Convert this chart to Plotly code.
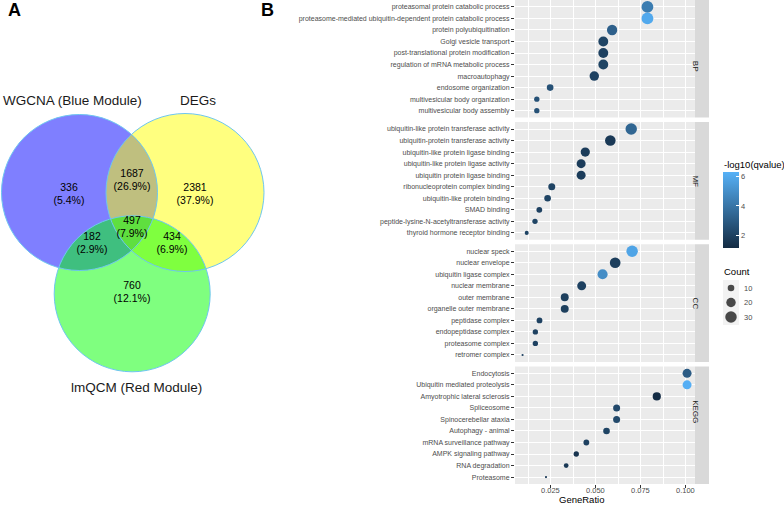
import numpy as np
import plotly.graph_objects as go

W, H = 784, 505
FONT = "Liberation Sans, Arial, sans-serif"

# ---------------- Data ----------------
venn_sets = ["WGCNA (Blue Module)", "DEGs", "lmQCM (Red Module)"]
venn_counts = [336, 1687, 2381, 497, 182, 434, 760]
venn_pcts = ["5.4", "26.9", "37.9", "7.9", "2.9", "6.9", "12.1"]

facets = ["BP", "MF", "CC", "KEGG"]

bp_terms = ["proteasomal protein catabolic process",
            "proteasome-mediated ubiquitin-dependent protein catabolic process",
            "protein polyubiquitination", "Golgi vesicle transport",
            "post-translational protein modification",
            "regulation of mRNA metabolic process", "macroautophagy",
            "endosome organization", "multivesicular body organization",
            "multivesicular body assembly"]
bp_ratio = [0.0786, 0.0786, 0.0590, 0.0541, 0.0541, 0.0541, 0.0491, 0.0246, 0.0172, 0.0172]
bp_count = [32, 32, 24, 22, 22, 22, 20, 10, 7, 7]
bp_q = [4.3, 6.0, 3.2, 2.1, 2.0, 2.1, 2.0, 2.6, 2.6, 2.6]

mf_terms = ["ubiquitin-like protein transferase activity",
            "ubiquitin-protein transferase activity",
            "ubiquitin-like protein ligase binding",
            "ubiquitin-like protein ligase activity",
            "ubiquitin protein ligase binding",
            "ribonucleoprotein complex binding", "ubiquitin-like protein binding",
            "SMAD binding", "peptide-lysine-N-acetyltransferase activity",
            "thyroid hormone receptor binding"]
mf_ratio = [0.0696, 0.0580, 0.0441, 0.0418, 0.0418, 0.0255, 0.0232, 0.0186, 0.0162, 0.0116]
mf_count = [30, 25, 19, 18, 18, 11, 10, 8, 7, 5]
mf_q = [3.4, 1.7, 1.8, 1.8, 1.8, 2.1, 2.1, 2.0, 2.1, 2.1]

cc_terms = ["nuclear speck", "nuclear envelope", "ubiquitin ligase complex",
            "nuclear membrane", "outer membrane", "organelle outer membrane",
            "peptidase complex", "endopeptidase complex", "proteasome complex",
            "retromer complex"]
cc_ratio = [0.0701, 0.0607, 0.0537, 0.0421, 0.0327, 0.0327, 0.0187, 0.0164, 0.0164, 0.0093]
cc_count = [30, 26, 23, 18, 14, 14, 8, 7, 7, 4]
cc_q = [5.8, 1.9, 4.9, 2.0, 1.9, 1.9, 2.0, 2.0, 2.0, 2.0]

kegg_terms = ["Endocytosis", "Ubiquitin mediated proteolysis",
              "Amyotrophic lateral sclerosis", "Spliceosome",
              "Spinocerebellar ataxia", "Autophagy - animal",
              "mRNA surveillance pathway", "AMPK signaling pathway",
              "RNA degradation", "Proteasome"]
kegg_ratio = [0.1006, 0.1006, 0.0838, 0.0615, 0.0615, 0.0559, 0.0447, 0.0391, 0.0335, 0.0223]
kegg_count = [18, 18, 15, 11, 11, 10, 8, 7, 6, 4]
kegg_q = [3.0, 6.2, 1.2, 2.3, 2.3, 2.1, 2.0, 1.5, 1.7, 1.7]

x_ticks = [0.025, 0.050, 0.075, 0.100]
x_ticklabels = ["0.025", "0.050", "0.075", "0.100"]
q_ticks = [2, 4, 6]
count_legend = [10, 20, 30]

# ---------------- Layout helpers ----------------
def py(p):
    return 1 - p / H

def px(p):
    return p / W

terms_all = [bp_terms, mf_terms, cc_terms, kegg_terms]
ratio_all = [bp_ratio, mf_ratio, cc_ratio, kegg_ratio]
count_all = [bp_count, mf_count, cc_count, kegg_count]
q_all = [bp_q, mf_q, cc_q, kegg_q]

all_counts = np.concatenate([np.array(c) for c in count_all])
CMIN, CMAX = all_counts.min(), all_counts.max()

def dot_size(c):
    c = np.asarray(c, dtype=float)
    return 2.2 + 9.6 * np.sqrt((c - CMIN) / (CMAX - CMIN))

panel_x = (515, 695)
strip_x = (695, 709)
panel_y = [(0, 117.6), (122.1, 239.8), (244.3, 361.9), (366.4, 484)]

fig = go.Figure()
shapes = []
annotations = []
layout_axes = {}

for i, f in enumerate(facets):
    n = "" if i == 0 else str(i + 1)
    xa, ya = "x" + n, "y" + n
    fig.add_trace(go.Scatter(
        x=ratio_all[i], y=terms_all[i], mode="markers",
        xaxis=xa, yaxis=ya, showlegend=False,
        marker=dict(size=dot_size(count_all[i]), color=q_all[i],
                    coloraxis="coloraxis", line=dict(width=0), opacity=1),
        hoverinfo="skip"))
    bottom = (i == len(facets) - 1)
    layout_axes["xaxis" + n] = dict(
        domain=[px(panel_x[0]), px(panel_x[1])], anchor=ya,
        range=[0.0051, 0.105], tickvals=x_ticks, ticktext=x_ticklabels,
        showticklabels=False, ticks="outside" if bottom else "",
        ticklen=3, tickcolor="#333333", tickwidth=1,
        showgrid=True, gridcolor="white", gridwidth=1,
        minor=dict(tickvals=[0.0125, 0.0375, 0.0625, 0.0875], showgrid=True,
                   gridcolor="white", gridwidth=0.5, ticks=""),
        zeroline=False, showline=False,
        matches=None if i == 0 else "x",
    )
    layout_axes["yaxis" + n] = dict(
        domain=[py(panel_y[i][1]), py(panel_y[i][0])], anchor=xa,
        type="category", categoryorder="array", categoryarray=terms_all[i],
        range=[len(terms_all[i]) - 0.4, -0.6],
        ticks="outside", ticklen=3, tickcolor="#333333", tickwidth=1,
        tickfont=dict(size=7, color="#4D4D4D", family=FONT),
        showgrid=True, gridcolor="white", gridwidth=1,
        zeroline=False, showline=False,
    )
    shapes.append(dict(type="rect", xref=xa + " domain", yref=ya + " domain",
                       x0=0, x1=1, y0=0, y1=1, fillcolor="#EBEBEB",
                       line=dict(width=0), layer="below"))
    shapes.append(dict(type="rect", xref="paper", yref="paper",
                       x0=px(strip_x[0]), x1=px(strip_x[1]),
                       y0=py(panel_y[i][1]), y1=py(panel_y[i][0]),
                       fillcolor="#D9D9D9", line=dict(width=0), layer="below"))
    annotations.append(dict(text=f, xref="paper", yref="paper",
                            x=px((strip_x[0] + strip_x[1]) / 2),
                            y=py((panel_y[i][0] + panel_y[i][1]) / 2),
                            textangle=90, showarrow=False,
                            font=dict(size=8, color="#1A1A1A", family=FONT)))

# x tick labels and title under the bottom panel (placed on the x scale)
for tv, tt in zip(x_ticks, x_ticklabels):
    annotations.append(dict(text=tt, xref="x4", yref="paper", x=tv, y=py(490),
                            showarrow=False, yanchor="middle", borderpad=0,
                            font=dict(size=7.5, color="#4D4D4D", family=FONT)))
annotations.append(dict(text="GeneRatio", xref="paper", yref="paper",
                        x=px((panel_x[0] + panel_x[1]) / 2), y=py(499.5),
                        showarrow=False, yanchor="middle", borderpad=0,
                        font=dict(size=9.5, color="black", family=FONT)))

# ---------------- Venn (pixel-coordinate overlay axis) ----------------
layout_axes["xaxis5"] = dict(domain=[0, 1], range=[0, W], visible=False,
                             anchor="y5", fixedrange=True)
layout_axes["yaxis5"] = dict(domain=[0, 1], range=[H, 0], visible=False,
                             anchor="x5", fixedrange=True)

circles = [((79.5, 192.5), 78, "rgba(0,0,255,0.5)"),
           ((185, 192.5), 79, "rgba(255,255,0,0.5)"),
           ((132.2, 293.8), 78, "rgba(0,255,0,0.5)")]
for (cx, cy), r, col in circles:
    shapes.append(dict(type="circle", xref="x5", yref="y5",
                       x0=cx - r, x1=cx + r, y0=cy - r, y1=cy + r,
                       fillcolor=col, line=dict(width=0), layer="below"))
for (cx, cy), r, col in circles:
    shapes.append(dict(type="circle", xref="x5", yref="y5",
                       x0=cx - r, x1=cx + r, y0=cy - r, y1=cy + r,
                       fillcolor="rgba(0,0,0,0)",
                       line=dict(width=1, color="#6EC6F0"), layer="below"))

region_pos = [(69, 195), (132, 181), (195, 195), (132, 228), (92, 244), (172, 244), (132, 293)]
fig.add_trace(go.Scatter(
    x=[p[0] for p in region_pos], y=[p[1] for p in region_pos],
    xaxis="x5", yaxis="y5", mode="text",
    text=[f"{c}<br>({p}%)" for c, p in zip(venn_counts, venn_pcts)],
    textfont=dict(size=10.5, color="black", family=FONT),
    showlegend=False, hoverinfo="skip"))

set_label_pos = [(72, 100), (198, 100), (136, 387)]
for name, (lx, ly) in zip(venn_sets, set_label_pos):
    annotations.append(dict(text=name, xref="x5", yref="y5", x=lx, y=ly,
                            showarrow=False,
                            font=dict(size=13.5, color="#1A1A1A", family=FONT)))

annotations.append(dict(text="<b>A</b>", xref="x5", yref="y5", x=14, y=10,
                        showarrow=False, font=dict(size=18, color="black", family=FONT)))
annotations.append(dict(text="<b>B</b>", xref="x5", yref="y5", x=267, y=10,
                        showarrow=False, font=dict(size=18, color="black", family=FONT)))

# ---------------- Count legend ----------------
key_y = [288, 302.5, 317]
shapes.append(dict(type="rect", xref="x5", yref="y5", x0=723, x1=739,
                   y0=280, y1=325, fillcolor="#F2F2F2", line=dict(width=0),
                   layer="below"))
fig.add_trace(go.Scatter(
    x=[731] * len(count_legend), y=key_y, xaxis="x5", yaxis="y5",
    mode="markers", marker=dict(size=dot_size(count_legend), color="black",
                                line=dict(width=0)),
    showlegend=False, hoverinfo="skip"))
for c, ky in zip(count_legend, key_y):
    annotations.append(dict(text=str(c), xref="x5", yref="y5", x=742, y=ky,
                            xanchor="left", showarrow=False,
                            font=dict(size=7.5, color="#4D4D4D", family=FONT)))
annotations.append(dict(text="Count", xref="x5", yref="y5", x=722, y=271,
                        xanchor="left", showarrow=False,
                        font=dict(size=9.5, color="black", family=FONT)))
annotations.append(dict(text="-log10(qvalue)", xref="x5", yref="y5", x=722, y=164,
                        xanchor="left", showarrow=False,
                        font=dict(size=9.5, color="black", family=FONT)))

fig.update_layout(
    width=W, height=H, margin=dict(l=0, r=0, t=0, b=0),
    paper_bgcolor="white", plot_bgcolor="rgba(0,0,0,0)",
    font=dict(family=FONT),
    shapes=shapes, annotations=annotations, showlegend=False,
    coloraxis=dict(
        cmin=1.15, cmax=6.3,
        colorscale=[[0, "#132B43"], [1, "#56B1F7"]],
        colorbar=dict(
            x=px(723), xanchor="left", xpad=0, ypad=0,
            y=py(210), yanchor="middle", len=76, lenmode="pixels",
            thickness=16, thicknessmode="pixels", outlinewidth=0,
            tickvals=q_ticks, ticks="inside", ticklen=3, tickcolor="white",
            tickfont=dict(size=7.5, color="#4D4D4D", family=FONT),
            title=dict(text=""),
        ),
    ),
    **layout_axes,
)

fig.write_html("out.html", config={"displayModeBar": False},
               post_script="document.body.style.margin='0';")
